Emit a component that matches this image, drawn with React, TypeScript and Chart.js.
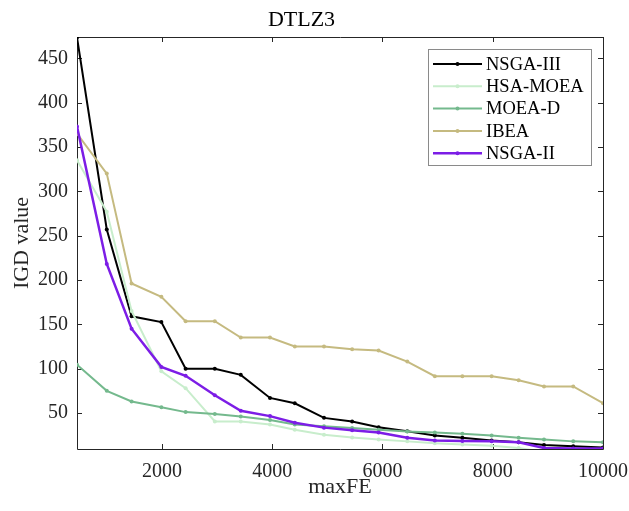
import React, { useEffect, useRef } from "react";
import { Chart, registerables } from "chart.js";

Chart.register(...registerables);

const maxFE = [460, 1000, 1450, 1990, 2430, 2960, 3430, 3960, 4410, 4940, 5450, 5930, 6450, 6950, 7450, 7980, 8470, 8930, 9460, 10000];

const nsga3 = [473.5, 257, 159, 152.5, 100, 100, 93, 67, 61, 44.5, 40.5, 34, 29.5, 24.5, 22, 19, 17, 14, 12.5, 11];
const hsaMoea = [335, 277, 165, 97, 78, 40.5, 40.5, 37, 31, 25.5, 22.5, 20, 18, 16, 14.5, 13, 10.5, 6, 5, 5];
const moeaD = [104.5, 75, 63, 56.5, 51, 49, 46, 42, 37, 35, 33, 31, 29, 28, 26.5, 24.5, 22, 20, 18, 17];
const ibea = [365, 320, 196, 181, 153.5, 153.5, 135, 135, 125, 125, 122, 120.5, 108, 91.5, 91.5, 91.5, 87, 80, 80, 61];
const nsga2 = [373, 218, 145, 102, 92, 70, 52.5, 46.5, 39, 33.5, 30.5, 28, 22, 19, 18.5, 18, 17, 10.5, 10, 10];

const seriesNames = ["NSGA-III", "HSA-MOEA", "MOEA-D", "IBEA", "NSGA-II"];
const seriesValues = [nsga3, hsaMoea, moeaD, ibea, nsga2];
const seriesColors = ["#000000", "#c8edcc", "#74b98d", "#c5ba80", "#7c1de6"];
const seriesWidths = [2, 2, 2, 2, 2.5];

const xTicks = [2000, 4000, 6000, 8000, 10000];
const yTicks = [50, 100, 150, 200, 250, 300, 350, 400, 450];

const SERIF = "'Liberation Serif', 'Times New Roman', serif";
const TEXT = "#262626";

const framePlugin = {
  id: "frame",
  beforeDatasetsDraw(chart: any) {
    const { ctx, chartArea: a, scales } = chart;
    ctx.save();
    ctx.strokeStyle = TEXT;
    ctx.lineWidth = 1;
    ctx.beginPath();
    ctx.rect(Math.round(a.left) + 0.5, Math.round(a.top) + 0.5, Math.round(a.right - a.left), Math.round(a.bottom - a.top));
    ctx.stroke();
    const tl = 5;
    ctx.beginPath();
    xTicks.forEach((v) => {
      const px = Math.round(scales.x.getPixelForValue(v)) + 0.5;
      ctx.moveTo(px, a.bottom);
      ctx.lineTo(px, a.bottom - tl);
      ctx.moveTo(px, a.top);
      ctx.lineTo(px, a.top + tl);
    });
    yTicks.forEach((v) => {
      const py = Math.round(scales.y.getPixelForValue(v)) + 0.5;
      ctx.moveTo(a.left, py);
      ctx.lineTo(a.left + tl, py);
      ctx.moveTo(a.right, py);
      ctx.lineTo(a.right - tl, py);
    });
    ctx.stroke();
    ctx.restore();
  },
};

const legendPlugin = {
  id: "boxLegend",
  afterDraw(chart: any) {
    const { ctx } = chart;
    const x0 = 428, y0 = 49, w = 163, h = 116;
    ctx.save();
    ctx.fillStyle = "#ffffff";
    ctx.fillRect(x0, y0, w, h);
    ctx.strokeStyle = "#8a8a8a";
    ctx.lineWidth = 1;
    ctx.strokeRect(x0 + 0.5, y0 + 0.5, w, h);
    ctx.font = `18.5px ${SERIF}`;
    ctx.textBaseline = "middle";
    ctx.textAlign = "left";
    chart.data.datasets.forEach((ds: any, i: number) => {
      const cy = 64 + i * 22.3;
      ctx.strokeStyle = ds.borderColor;
      ctx.lineWidth = ds.borderWidth;
      ctx.beginPath();
      ctx.moveTo(433, cy);
      ctx.lineTo(482, cy);
      ctx.stroke();
      ctx.fillStyle = ds.borderColor;
      ctx.beginPath();
      ctx.arc(457.5, cy, 2, 0, Math.PI * 2);
      ctx.fill();
      ctx.fillStyle = "#000000";
      ctx.fillText(ds.label, 486, cy + 1);
    });
    ctx.restore();
  },
};

export default function App() {
  const ref = useRef<HTMLCanvasElement | null>(null);
  useEffect(() => {
    if (!ref.current) return;
    const chart = new Chart(ref.current, {
      type: "line",
      data: {
        datasets: seriesNames.map((name, i) => ({
          label: name,
          data: maxFE.map((x, j) => ({ x, y: seriesValues[i][j] })),
          borderColor: seriesColors[i],
          backgroundColor: seriesColors[i],
          borderWidth: seriesWidths[i],
          pointRadius: 2,
          pointBorderWidth: 0,
          pointHoverRadius: 2,
          tension: 0,
          fill: false,
          order: seriesNames.length - i,
        })),
      },
      options: {
        animation: false,
        responsive: false,
        devicePixelRatio: 1,
        layout: { padding: { left: 0, right: 26, top: 0, bottom: 0 } },
        plugins: {
          legend: { display: false },
          tooltip: { enabled: false },
          title: {
            display: true,
            text: "DTLZ3",
            color: "#000000",
            font: { family: SERIF, size: 22, weight: "normal" },
            padding: { top: 7.3, bottom: 3.3 },
          },
        },
        scales: {
          x: {
            type: "linear",
            min: 460,
            max: 10000,
            afterFit: (s: any) => { s.height = 62; s.paddingLeft = 0; s.paddingRight = 0; },
            afterBuildTicks: (s: any) => { s.ticks = xTicks.map((v) => ({ value: v })); },
            grid: { display: false, drawTicks: false },
            border: { display: false },
            ticks: {
              padding: 11,
              color: TEXT,
              font: { family: SERIF, size: 20 },
              maxRotation: 0,
              autoSkip: false,
              callback: (v: any) => String(v),
            },
            title: {
              display: true,
              text: "maxFE",
              color: TEXT,
              font: { family: SERIF, size: 22 },
              padding: { top: 0, bottom: 10.3 },
            },
          },
          y: {
            type: "linear",
            min: 9.4,
            max: 474,
            afterFit: (s: any) => { s.width = 77; s.paddingTop = 0; s.paddingBottom = 0; },
            afterBuildTicks: (s: any) => { s.ticks = yTicks.map((v) => ({ value: v })); },
            grid: { display: false, drawTicks: false },
            border: { display: false },
            ticks: {
              padding: 9,
              color: TEXT,
              autoSkip: false,
              font: { family: SERIF, size: 20 },
              callback: (v: any) => String(v),
            },
            title: {
              display: true,
              text: "IGD value",
              color: TEXT,
              font: { family: SERIF, size: 22 },
              padding: { top: 9.3, bottom: 0 },
            },
          },
        },
      },
      plugins: [framePlugin, legendPlugin],
    } as any);
    return () => chart.destroy();
  }, []);
  return (
    <div style={{ position: "absolute", left: 0, top: 0, width: 629, height: 511, background: "#ffffff" }}>
      <canvas ref={ref} width={629} height={511} />
    </div>
  );
}
